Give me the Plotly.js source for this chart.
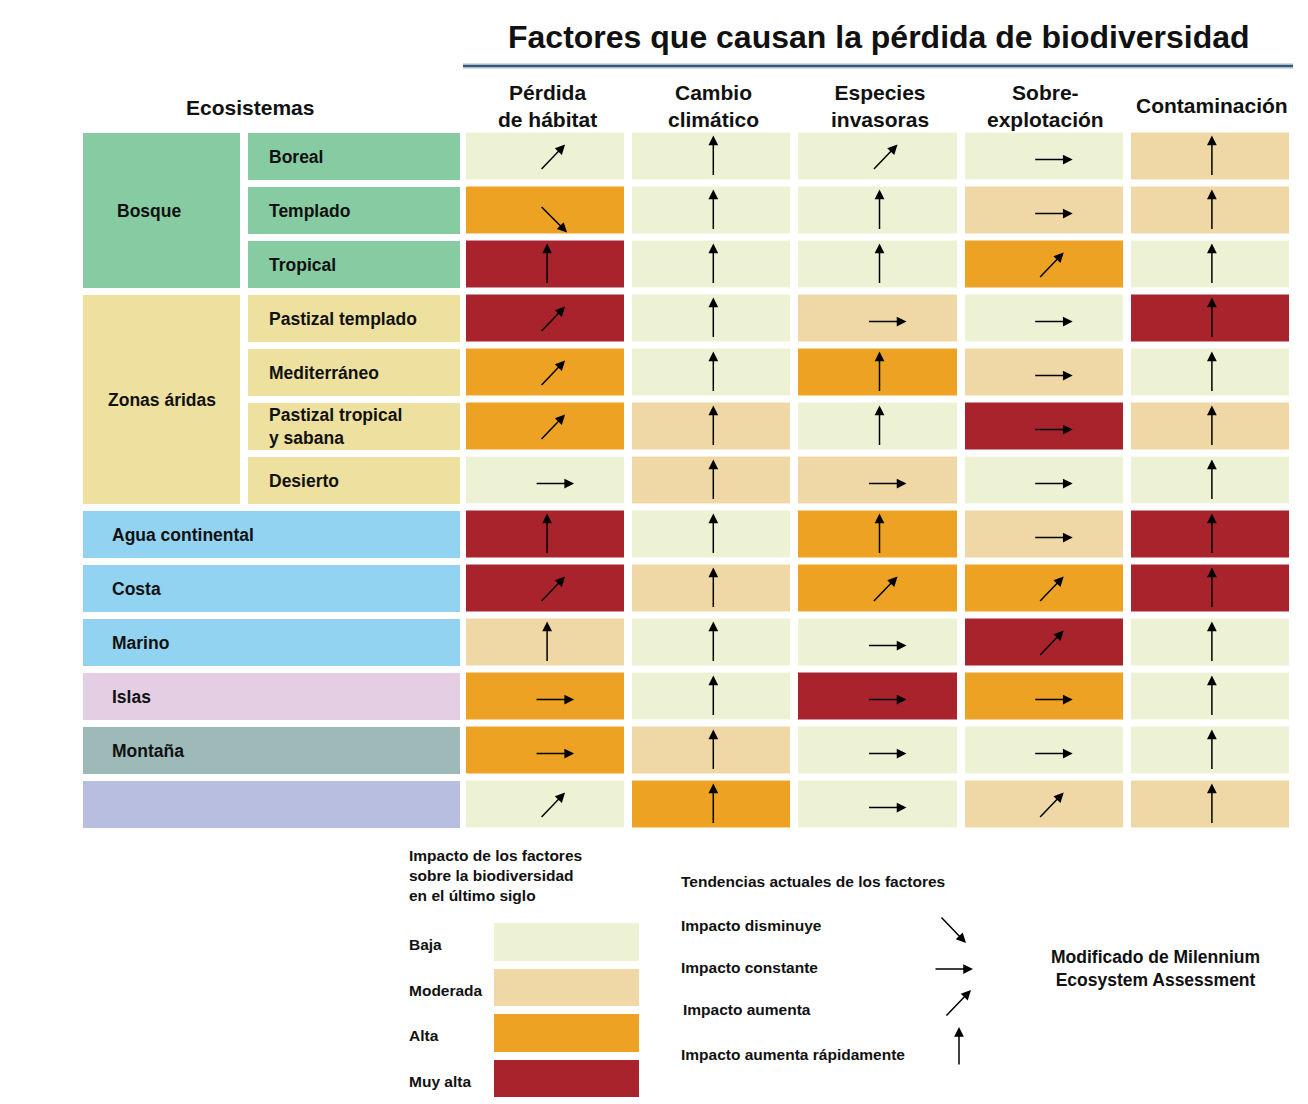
<!DOCTYPE html>
<html><head><meta charset="utf-8">
<script src="https://cdn.plot.ly/plotly-3.0.1.min.js"></script>
<style>html,body{margin:0;padding:0;background:#fff}#chart{width:1308px;height:1104px}</style>
</head><body><div id="chart"></div>
<script>
// ---------- DATA ----------
const chartTitle = 'Factores que causan la pérdida de biodiversidad';
const factors = ['Pérdida<br>de hábitat', 'Cambio<br>climático', 'Especies<br>invasoras', 'Sobre-<br>explotación', 'Contaminación'];
const ecosystems = ['Boreal', 'Templado', 'Tropical', 'Pastizal templado', 'Mediterráneo', 'Pastizal tropical<br>y sabana', 'Desierto',
  'Agua continental', 'Costa', 'Marino', 'Islas', 'Montaña', ''];
const groupNames = ['Bosque', 'Zonas áridas'];
const groupFirstRow = [0, 3];
const groupLastRow = [2, 6];

// impact level: 1 Baja, 2 Moderada, 3 Alta, 4 Muy alta
const impactHabitat    = [1, 3, 4, 4, 3, 3, 1, 4, 4, 2, 3, 3, 1];
const impactClima      = [1, 1, 1, 1, 1, 2, 2, 1, 2, 1, 1, 2, 3];
const impactInvasoras  = [1, 1, 1, 2, 3, 1, 2, 3, 3, 1, 4, 1, 1];
const impactSobre      = [1, 2, 3, 1, 2, 4, 1, 2, 3, 4, 3, 1, 2];
const impactContam     = [2, 2, 1, 4, 1, 2, 1, 4, 4, 1, 1, 1, 2];

// trend: D disminuye, C constante, I aumenta, R aumenta rápidamente
const trendHabitat   = ['I','D','R','I','I','I','C','R','I','R','C','C','I'];
const trendClima     = ['R','R','R','R','R','R','R','R','R','R','R','R','R'];
const trendInvasoras = ['I','R','R','C','R','R','C','R','I','C','C','C','C'];
const trendSobre     = ['C','C','I','C','C','C','C','C','I','I','C','C','I'];
const trendContam    = ['R','R','R','R','R','R','R','R','R','R','R','R','R'];

const levelNames = ['Baja', 'Moderada', 'Alta', 'Muy alta'];
const levelValues = [1, 2, 3, 4];
const trendCodes = ['D', 'C', 'I', 'R'];
const trendNames = ['Impacto disminuye', 'Impacto constante', 'Impacto aumenta', 'Impacto aumenta rápidamente'];

// ---------- STYLE ----------
const W = 1308, H = 1104;
const px = v => v / W;
const py = v => 1 - v / H;
const FONT = 'Liberation Sans, Arial, Helvetica, sans-serif';
const levelColors = ['#EEF2D5', '#F0D8A6', '#EEA223', '#A9232D'];
const rowBoxColors = ['#87CBA2','#87CBA2','#87CBA2','#EEE1A0','#EEE1A0','#EEE1A0','#EEE1A0',
  '#91D3F0','#91D3F0','#91D3F0','#E3CEE3','#9EBAB8','#B8BEE0'];
const groupColors = ['#87CBA2', '#EEE1A0'];

const impacts = [impactHabitat, impactClima, impactInvasoras, impactSobre, impactContam];
const trends = [trendHabitat, trendClima, trendInvasoras, trendSobre, trendContam];
const nRows = ecosystems.length, nCols = factors.length;
const colIdx = factors.map((_, i) => i);
const rowIdx = ecosystems.map((_, i) => i);
const z = rowIdx.map(r => colIdx.map(c => impacts[c][r]));

const cscale = levelColors.map((c, i) => [i / (levelColors.length - 1), c]);

// arrow geometry in cells (pixel offsets from cell centre: head and tail)
const arrowGeom = {
  R: {h: [2, -21], t: [2, 20]},
  I: {h: [20, -12], t: [-5, 14]},
  D: {h: [22, 22], t: [-5, -5]},
  C: {h: [29, 3], t: [-10, 3]}
};
// arrow geometry in the legend (offsets from the symbol centre)
const legendArrowGeom = {
  D: {h: [13, 13.5], t: [-13, -13.5]},
  C: {h: [19.5, 0], t: [-19.5, 0]},
  I: {h: [13, -13.5], t: [-13, 13.5]},
  R: {h: [0, -19.5], t: [0, 19.5]}
};
function arrowAnn(x, y, g, xref, yref) {
  return {x: x, y: y, xref: xref, yref: yref, text: '', showarrow: true,
    xshift: g.h[0], yshift: -g.h[1],
    ax: g.t[0] - g.h[0], ay: g.t[1] - g.h[1],
    arrowhead: 2, arrowsize: 1.3, arrowwidth: 1.5, arrowcolor: '#000',
    standoff: 0, startstandoff: 0};
}

const traces = [
  {type: 'heatmap', x: colIdx, y: rowIdx, z: z, zmin: 1, zmax: 4, colorscale: cscale,
   xgap: 8, ygap: 7, showscale: false, hoverinfo: 'skip'},
  {type: 'heatmap', xaxis: 'x2', yaxis: 'y2', x: [0], y: levelValues.map((_, i) => i),
   z: levelValues.map(v => [v]), zmin: 1, zmax: 4, colorscale: cscale,
   ygap: 8, showscale: false, hoverinfo: 'skip'}
];

const shapes = [];
const annotations = [];
const gy = 3.5 / 54;

// title & rule
annotations.push({xref: 'paper', yref: 'paper', x: px(879), y: py(37), text: '<b>' + chartTitle + '</b>',
  showarrow: false, font: {family: FONT, size: 32, color: '#111'}, xanchor: 'center', yanchor: 'middle'});
shapes.push({type: 'line', xref: 'paper', yref: 'paper', x0: px(463), x1: px(1293), y0: py(66), y1: py(66),
  line: {color: '#A9BCCB', width: 5}});
shapes.push({type: 'line', xref: 'paper', yref: 'paper', x0: px(463), x1: px(1293), y0: py(66), y1: py(66),
  line: {color: '#34597A', width: 2}});
annotations.push({xref: 'paper', yref: 'paper', x: px(250), y: py(107), text: '<b>Ecosistemas</b>',
  showarrow: false, font: {family: FONT, size: 21, color: '#111'}, xanchor: 'center', yanchor: 'middle'});

// column headers
factors.forEach((f, c) => {
  annotations.push({xref: 'x', yref: 'paper', x: c, y: py(106), text: '<b>' + f + '</b>', xshift: 2,
    showarrow: false, font: {family: FONT, size: 21, color: '#111'}, xanchor: 'center', yanchor: 'middle'});
});

// left side boxes and labels
const grouped = new Set();
groupNames.forEach((g, i) => {
  for (let r = groupFirstRow[i]; r <= groupLastRow[i]; r++) grouped.add(r);
  shapes.push({type: 'rect', xref: 'paper', yref: 'y', x0: px(83), x1: px(240),
    y0: groupFirstRow[i] - 0.5 + gy, y1: groupLastRow[i] + 0.5 - gy,
    fillcolor: groupColors[i], line: {width: 0}, layer: 'below'});
  annotations.push({xref: 'paper', yref: 'y', x: px(i === 0 ? 115 : 106), y: (groupFirstRow[i] + groupLastRow[i]) / 2,
    text: '<b>' + g + '</b>', showarrow: false, xanchor: 'left', yanchor: 'middle',
    font: {family: FONT, size: 17.5, color: '#111'}});
});
ecosystems.forEach((e, r) => {
  const inGroup = grouped.has(r);
  shapes.push({type: 'rect', xref: 'paper', yref: 'y', x0: px(inGroup ? 248 : 83), x1: px(460),
    y0: r - 0.5 + gy, y1: r + 0.5 - gy, fillcolor: rowBoxColors[r], line: {width: 0}, layer: 'below'});
  if (e) annotations.push({xref: 'paper', yref: 'y', x: px(inGroup ? 267 : 110), y: r,
    text: '<b>' + e + '</b>', showarrow: false, xanchor: 'left', yanchor: 'middle', align: 'left',
    font: {family: FONT, size: 17.5, color: '#111'}});
});

// arrows in cells
colIdx.forEach(c => rowIdx.forEach(r => {
  annotations.push(arrowAnn(c, r, arrowGeom[trends[c][r]], 'x', 'y'));
}));

// legend: impact
annotations.push({xref: 'paper', yref: 'paper', x: px(407), y: py(875),
  text: '<b>Impacto de los factores<br>sobre la biodiversidad<br>en el último siglo</b>',
  showarrow: false, xanchor: 'left', yanchor: 'middle', align: 'left',
  font: {family: FONT, size: 15.5, color: '#111'}});
levelNames.forEach((n, i) => {
  annotations.push({xref: 'paper', yref: 'y2', x: px(407), y: i, yshift: -3, text: '<b>' + n + '</b>',
    showarrow: false, xanchor: 'left', yanchor: 'middle', font: {family: FONT, size: 15.5, color: '#111'}});
});

// legend: trends
annotations.push({xref: 'paper', yref: 'paper', x: px(679), y: py(881), text: '<b>Tendencias actuales de los factores</b>',
  showarrow: false, xanchor: 'left', yanchor: 'middle', font: {family: FONT, size: 15.5, color: '#111'}});
const trendTextY = [925, 967, 1009, 1054];
const trendArrowX = [953, 953.5, 958, 959];
const trendArrowY = [929.5, 969, 1003.5, 1046.5];
trendNames.forEach((n, i) => {
  annotations.push({xref: 'paper', yref: 'paper', x: px(i === 2 ? 681 : 679), y: py(trendTextY[i]), text: '<b>' + n + '</b>',
    showarrow: false, xanchor: 'left', yanchor: 'middle', font: {family: FONT, size: 15.5, color: '#111'}});
  annotations.push(arrowAnn(px(trendArrowX[i]), py(trendArrowY[i]), legendArrowGeom[trendCodes[i]], 'paper', 'paper'));
});

annotations.push({xref: 'paper', yref: 'paper', x: px(1155), y: py(968),
  text: '<b>Modificado de Milennium<br>Ecosystem Assessment</b>', showarrow: false,
  xanchor: 'center', yanchor: 'middle', font: {family: FONT, size: 17.5, color: '#111'}});

const layout = {
  width: W, height: H, margin: {l: 0, r: 0, t: 0, b: 0},
  paper_bgcolor: '#ffffff', plot_bgcolor: 'rgba(0,0,0,0)', showlegend: false,
  xaxis: {domain: [px(462), px(1293)], range: [-0.5, nCols - 0.5], visible: false, fixedrange: true},
  yaxis: {domain: [py(831.5), py(129.5)], range: [nRows - 0.5, -0.5], visible: false, fixedrange: true},
  xaxis2: {domain: [px(494), px(639)], range: [-0.5, 0.5], anchor: 'y2', visible: false, fixedrange: true},
  yaxis2: {domain: [py(1101), py(919)], range: [levelValues.length - 0.5, -0.5], anchor: 'x2', visible: false, fixedrange: true},
  shapes: shapes, annotations: annotations,
  font: {family: FONT, color: '#111'}
};
Plotly.newPlot('chart', traces, layout, {displayModeBar: false, staticPlot: true});
</script></body></html>
